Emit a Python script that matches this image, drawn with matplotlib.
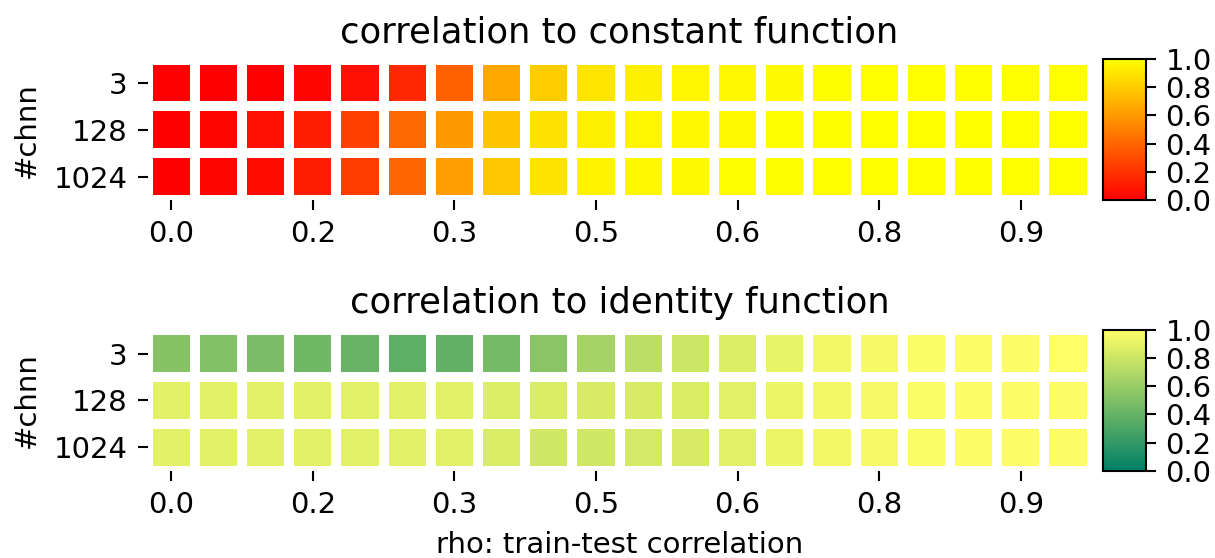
import numpy as np
import matplotlib
matplotlib.use("Agg")
import matplotlib.pyplot as plt

chnn = ["3", "128", "1024"]
rho_ticks = ["0.0", "0.2", "0.3", "0.5", "0.6", "0.8", "0.9"]

# correlation of the network output to a constant function, one row per #chnn
const_3 = [0.00, 0.00, 0.00, 0.03, 0.06, 0.16, 0.38, 0.66, 0.80, 0.90,
           0.94, 0.96, 0.97, 0.98, 0.99, 1.00, 1.00, 1.00, 1.00, 1.00]
const_128 = [0.00, 0.02, 0.06, 0.12, 0.25, 0.41, 0.60, 0.77, 0.88, 0.94,
             0.96, 0.97, 0.98, 0.99, 0.99, 1.00, 1.00, 1.00, 1.00, 1.00]
const_1024 = [0.00, 0.02, 0.05, 0.12, 0.24, 0.40, 0.62, 0.78, 0.89, 0.95,
              0.97, 0.98, 0.99, 0.99, 1.00, 1.00, 1.00, 1.00, 1.00, 1.00]

# correlation to the identity function
ident_3 = [0.53, 0.51, 0.48, 0.44, 0.41, 0.37, 0.39, 0.46, 0.54, 0.65,
           0.74, 0.80, 0.86, 0.91, 0.95, 0.96, 0.98, 0.99, 0.99, 1.00]
ident_128 = [0.89, 0.89, 0.89, 0.89, 0.89, 0.89, 0.88, 0.86, 0.85, 0.84,
             0.84, 0.85, 0.88, 0.92, 0.95, 0.96, 0.98, 0.99, 0.99, 0.99]
ident_1024 = [0.89, 0.89, 0.89, 0.89, 0.89, 0.89, 0.88, 0.85, 0.82, 0.82,
              0.83, 0.84, 0.88, 0.92, 0.95, 0.96, 0.98, 0.99, 0.99, 0.99]

panels = [
    ("correlation to constant function", np.array([const_3, const_128, const_1024]), "autumn"),
    ("correlation to identity function", np.array([ident_3, ident_128, ident_1024]), "summer"),
]

fig = plt.figure(figsize=(8.1, 3.72), dpi=150)
ax_pos = [[0.1214, 0.6416, 0.7771, 0.2516], [0.1214, 0.1564, 0.7771, 0.2520]]
cb_pos = [[0.9081, 0.6416, 0.0349, 0.2527], [0.9081, 0.1564, 0.0349, 0.2527]]

for i, (title, data, cmap) in enumerate(panels):
    ax = fig.add_axes(ax_pos[i])
    mesh = ax.pcolormesh(data, cmap=cmap, vmin=0, vmax=1,
                         edgecolors="white", linewidth=3.9)
    ax.set_xlim(0, data.shape[1])
    ax.set_ylim(data.shape[0], 0)
    ax.set_yticks(np.arange(len(chnn)) + 0.5)
    ax.set_yticklabels(chnn)
    ax.set_xticks(np.arange(0, data.shape[1], 3) + 0.5)
    ax.set_xticklabels(rho_ticks)
    ax.tick_params(labelsize=14, length=5, width=1.0, pad=4.5)
    for s in ax.spines.values():
        s.set_visible(False)
    ax.set_ylabel("#chnn", fontsize=14, labelpad=6)
    ax.set_title(title, fontsize=17, pad=8)
    cax = fig.add_axes(cb_pos[i])
    cb = fig.colorbar(mesh, cax=cax, ticks=[0, 0.2, 0.4, 0.6, 0.8, 1.0])
    cb.ax.set_yticklabels(["0.0", "0.2", "0.4", "0.6", "0.8", "1.0"])
    cb.ax.tick_params(labelsize=14, length=5, width=1.0, pad=4.5)
    cb.outline.set_linewidth(1.0)
    if i == 1:
        ax.set_xlabel("rho: train-test correlation", fontsize=14, labelpad=6)

fig.savefig("out.png", dpi=150)
